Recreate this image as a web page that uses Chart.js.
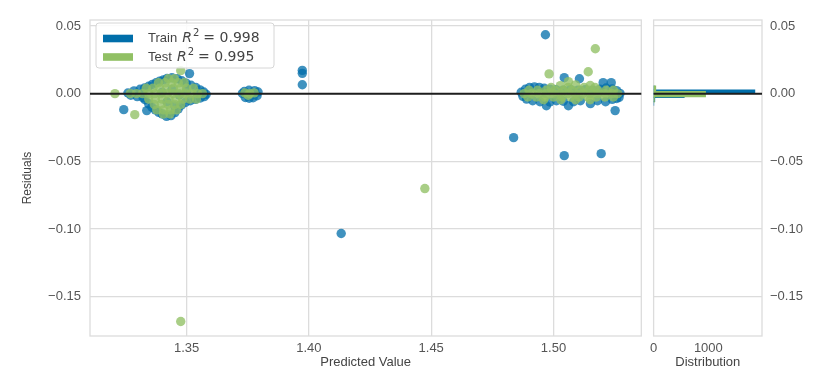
<!DOCTYPE html>
<html>
<head>
<meta charset="utf-8">
<script src="https://cdn.jsdelivr.net/npm/chart.js@4.4.1/dist/chart.umd.min.js"></script>
<style>
  html, body { margin: 0; padding: 0; background: #ffffff; }
  #wrap { position: relative; width: 836px; height: 382px; overflow: hidden; background: #fff; }
  #mainBox { position: absolute; left: 0; top: 0; width: 646px; height: 382px; }
  #histBox { position: absolute; left: 645px; top: 0; width: 191px; height: 382px; }
</style>
</head>
<body>
<div id="wrap">
  <div id="mainBox"><canvas id="main" width="646" height="382"></canvas></div>
  <div id="histBox"><canvas id="hist" width="191" height="382"></canvas></div>
</div>
<script>
// ---------------- data ----------------
const seriesNames = ['Train', 'Test'];
const r2Scores = ['0.998', '0.995'];

const xTicks = [1.35, 1.40, 1.45, 1.50];
const yTicks = [0.05, 0.00, -0.05, -0.10, -0.15];
const histTicks = [0, 1000];

const X_MIN = 1.3105, X_MAX = 1.5359;
const Y_MIN = -0.179, Y_MAX = 0.0544;
const HIST_MAX = 1980;
const zeroLine = 0;

const trainPred = [
  1.3243, 1.3337, 1.3260, 1.3272, 1.3285, 1.3298, 1.3310, 1.3322, 1.3328, 1.3345,
  1.3360, 1.3375, 1.3390, 1.3405, 1.3420, 1.3440, 1.3462, 1.3480, 1.3512, 1.3498,
  1.3518, 1.3538, 1.3555, 1.3570, 1.3580, 1.3572, 1.3556, 1.3536, 1.3515, 1.3495,
  1.3478, 1.3466, 1.3452, 1.3436, 1.3418, 1.3400, 1.3386, 1.3372, 1.3358, 1.3345,
  1.3330, 1.3400, 1.3440, 1.3470, 1.3420, 1.3500, 1.3450,
  1.3728, 1.3740, 1.3756, 1.3772, 1.3788, 1.3792, 1.3778, 1.3755, 1.3736,
  1.3973, 1.3973, 1.3973,
  1.4132,
  1.4868, 1.4875, 1.4885, 1.4902, 1.4922, 1.4942, 1.4962, 1.4986, 1.5010, 1.5040,
  1.5070, 1.5100, 1.5130, 1.5160, 1.5190, 1.5215, 1.5240, 1.5258, 1.5272, 1.5268,
  1.4890, 1.4915, 1.4945, 1.4971, 1.4985, 1.5012, 1.5040, 1.5061, 1.5082, 1.5110,
  1.5151, 1.5180, 1.5213, 1.5240, 1.5258,
  1.4967, 1.5044, 1.5106, 1.5203, 1.5236, 1.5252, 1.4837, 1.5044, 1.5195
];
const trainResid = [
  -0.0118, -0.0125, 0.0005, -0.0012, 0.0020, -0.0022, 0.0032, -0.0030, 0.0042, 0.0055,
  0.0068, 0.0080, 0.0092, 0.0102, 0.0112, 0.0118, 0.0110, 0.0095, 0.0148, 0.0078,
  0.0062, 0.0045, 0.0028, 0.0012, -0.0005, -0.0022, -0.0032, -0.0042, -0.0052, -0.0065,
  -0.0085, -0.0112, -0.0140, -0.0162, -0.0168, -0.0150, -0.0138, -0.0120, -0.0100, -0.0075,
  -0.0045, 0.0010, 0.0030, -0.0010, -0.0060, 0.0020, -0.0090,
  0.0002, -0.0028, -0.0034, -0.0030, -0.0015, 0.0012, 0.0022, 0.0025, 0.0016,
  0.0172, 0.0150, 0.0066,
  -0.1033,
  0.0010, -0.0020, 0.0032, 0.0045, 0.0050, 0.0046, 0.0040, 0.0032, 0.0030, 0.0026,
  0.0030, 0.0026, 0.0030, 0.0026, 0.0032, 0.0042, 0.0034, 0.0022, 0.0002, -0.0028,
  -0.0040, -0.0052, -0.0060, -0.0089, -0.0062, -0.0052, -0.0056, -0.0089, -0.0060, -0.0052,
  -0.0074, -0.0052, -0.0060, -0.0042, -0.0036,
  0.0435, 0.0118, 0.0110, 0.0081, 0.0081, -0.0125, -0.0325, -0.0458, -0.0443
];

const testPred = [
  1.3207, 1.3288, 1.3476, 1.3476,
  1.3270, 1.3295, 1.3320, 1.3345, 1.3370, 1.3395, 1.3420, 1.3445, 1.3470, 1.3495, 1.3520, 1.3545, 1.3565,
  1.3335, 1.3362, 1.3390, 1.3418, 1.3446, 1.3474, 1.3500, 1.3528,
  1.3385, 1.3412, 1.3440, 1.3466, 1.3490,
  1.3425, 1.3450,
  1.3345, 1.3372, 1.3400, 1.3428, 1.3456, 1.3484, 1.3512, 1.3540,
  1.3368, 1.3396, 1.3424, 1.3452, 1.3476,
  1.3378, 1.3406, 1.3434, 1.3458,
  1.3405, 1.3432,
  1.3738, 1.3758, 1.3776, 1.3752,
  1.4474,
  1.4880, 1.4910, 1.4940, 1.4970, 1.5000, 1.5030, 1.5060, 1.5090, 1.5120, 1.5150, 1.5180, 1.5210, 1.5240, 1.5262,
  1.4900, 1.4935, 1.4970, 1.5005, 1.5040, 1.5075, 1.5110, 1.5145, 1.5180, 1.5215, 1.5245,
  1.4895, 1.4930, 1.4965, 1.5000, 1.5035, 1.5070, 1.5105, 1.5140, 1.5175, 1.5210, 1.5245,
  1.4990, 1.5060, 1.5125, 1.5170,
  1.4960, 1.5030, 1.5090, 1.5150,
  1.5171, 1.4982, 1.5142, 1.5061, 1.5028, 1.5090, 1.5150
];
const testResid = [
  0.0000, -0.0155, 0.0170, -0.1683,
  0.0000, 0.0000, 0.0000, 0.0000, 0.0000, 0.0000, 0.0000, 0.0000, 0.0000, 0.0000, 0.0000, 0.0000, 0.0000,
  0.0040, 0.0040, 0.0040, 0.0040, 0.0040, 0.0040, 0.0040, 0.0040,
  0.0080, 0.0080, 0.0080, 0.0080, 0.0080,
  0.0110, 0.0110,
  -0.0040, -0.0040, -0.0040, -0.0040, -0.0040, -0.0040, -0.0040, -0.0040,
  -0.0080, -0.0080, -0.0080, -0.0080, -0.0080,
  -0.0120, -0.0120, -0.0120, -0.0120,
  -0.0150, -0.0150,
  0.0005, 0.0000, 0.0006, -0.0012,
  -0.0701,
  0.0000, 0.0000, 0.0000, 0.0000, 0.0000, 0.0000, 0.0000, 0.0000, 0.0000, 0.0000, 0.0000, 0.0000, 0.0000, 0.0000,
  0.0025, 0.0025, 0.0025, 0.0025, 0.0025, 0.0025, 0.0025, 0.0025, 0.0025, 0.0025, 0.0025,
  -0.0025, -0.0025, -0.0025, -0.0025, -0.0025, -0.0025, -0.0025, -0.0025, -0.0025, -0.0025, -0.0025,
  0.0045, 0.0045, 0.0045, 0.0045,
  -0.0045, -0.0045, -0.0045, -0.0045,
  0.0332, 0.0146, 0.0162, 0.0089, 0.0059, 0.0065, 0.0060
];

// histogram of residuals (bin centres and counts)
const histBinsTrain = [-0.0073, -0.0044, -0.0015, 0.0014, 0.0043];
const histCountsTrain = [4, 22, 560, 1850, 10];
const histBinsTest = [-0.0043, -0.0003, 0.0037];
const histCountsTest = [15, 950, 40];

// ---------------- styles ----------------
const TRAIN_SOLID = 'rgb(0,110,170)';
const TEST_SOLID = 'rgb(145,192,100)';
const TRAIN_ALPHA = 'rgba(0,110,170,0.75)';
const TEST_ALPHA = 'rgba(145,192,100,0.78)';
const GRID = '#dcdcdc';
const TICK_COLOR = '#555555';
const TITLE_COLOR = '#444444';
const SANS = '"Liberation Sans", Arial, sans-serif';

Chart.defaults.font.family = SANS;
Chart.defaults.font.size = 13;
Chart.defaults.color = TICK_COLOR;

const fmtResid = v => (v < 0 ? '\u2212' : '') + Math.abs(v).toFixed(2);

const framePlugin = {
  id: 'frameAndZero',
  beforeDatasetsDraw(chart) {
    const { ctx, chartArea: a } = chart;
    ctx.save();
    ctx.strokeStyle = GRID;
    ctx.lineWidth = 1.3;
    ctx.strokeRect(a.left, a.top, a.right - a.left, a.bottom - a.top);
    ctx.restore();
  },
  afterDatasetsDraw(chart) {
    const { ctx, chartArea: a, scales } = chart;
    const y = scales.y.getPixelForValue(zeroLine);
    ctx.save();
    ctx.strokeStyle = '#1e1e1e';
    ctx.lineWidth = 2;
    ctx.beginPath();
    ctx.moveTo(a.left, y);
    ctx.lineTo(a.right, y);
    ctx.stroke();
    ctx.restore();
  }
};

function roundRectPath(ctx, x, y, w, h, r) {
  ctx.beginPath();
  ctx.moveTo(x + r, y);
  ctx.arcTo(x + w, y, x + w, y + h, r);
  ctx.arcTo(x + w, y + h, x, y + h, r);
  ctx.arcTo(x, y + h, x, y, r);
  ctx.arcTo(x, y, x + w, y, r);
  ctx.closePath();
}

const legendPlugin = {
  id: 'residLegend',
  afterDraw(chart) {
    const { ctx, chartArea: a } = chart;
    const bx = a.left + 6, by = a.top + 3, bw = 178, bh = 45;
    ctx.save();
    roundRectPath(ctx, bx, by, bw, bh, 3);
    ctx.fillStyle = 'rgba(255,255,255,0.85)';
    ctx.fill();
    ctx.strokeStyle = '#d6d6d6';
    ctx.lineWidth = 1;
    ctx.stroke();
    const colors = [TRAIN_SOLID, TEST_SOLID];
    ctx.textBaseline = 'middle';
    for (let i = 0; i < seriesNames.length; i++) {
      const cy = by + 15.5 + i * 18.5;
      ctx.fillStyle = colors[i];
      ctx.fillRect(bx + 7, cy - 3.8, 30, 7.6);
      ctx.fillStyle = '#444444';
      let x = bx + 52;
      ctx.font = '13px ' + SANS;
      const t = seriesNames[i] + ' ';
      ctx.fillText(t, x, cy);
      x += ctx.measureText(t).width + 1.5;
      ctx.font = 'italic 14px "DejaVu Sans"';
      ctx.fillText('R', x, cy);
      x += ctx.measureText('R').width + 1;
      ctx.font = '10px "DejaVu Sans"';
      ctx.fillText('2', x, cy - 5);
      x += ctx.measureText('2').width + 4;
      ctx.font = '14px "DejaVu Sans"';
      ctx.fillText('= ' + r2Scores[i], x, cy);
    }
    ctx.restore();
  }
};

// ---------------- main residual scatter ----------------
new Chart(document.getElementById('main'), {
  type: 'scatter',
  data: {
    datasets: [
      {
        label: seriesNames[0],
        data: trainPred.map((x, i) => ({ x: x, y: trainResid[i] })),
        backgroundColor: TRAIN_ALPHA,
        borderWidth: 0,
        pointRadius: 4.7,
        order: 1
      },
      {
        label: seriesNames[1],
        data: testPred.map((x, i) => ({ x: x, y: testResid[i] })),
        backgroundColor: TEST_ALPHA,
        borderWidth: 0,
        pointRadius: 4.7,
        order: 0
      }
    ]
  },
  options: {
    responsive: false,
    animation: false,
    events: [],
    layout: { padding: { top: 20, right: 1, bottom: 0, left: 0 } },
    plugins: { legend: { display: false }, tooltip: { enabled: false } },
    scales: {
      x: {
        type: 'linear',
        min: X_MIN, max: X_MAX,
        afterBuildTicks: s => { s.ticks = xTicks.map(v => ({ value: v })); },
        afterFit: s => { s.height = 46; },
        ticks: { callback: v => v.toFixed(2), padding: 5, color: TICK_COLOR, maxRotation: 0 },
        grid: { color: GRID, lineWidth: 1.3, drawTicks: false },
        border: { display: false },
        title: { display: true, text: 'Predicted Value', color: TITLE_COLOR, font: { size: 13 }, padding: { top: 0, bottom: 12 } }
      },
      y: {
        type: 'linear',
        min: Y_MIN, max: Y_MAX,
        afterBuildTicks: s => { s.ticks = yTicks.map(v => ({ value: v })); },
        afterFit: s => { s.width = 90; },
        ticks: { callback: fmtResid, padding: 9, color: TICK_COLOR },
        grid: { color: GRID, lineWidth: 1.3, drawTicks: false },
        border: { display: false },
        title: { display: true, text: 'Residuals', color: TITLE_COLOR, font: { size: 12 }, padding: { top: 20, bottom: 0 } }
      }
    }
  },
  plugins: [framePlugin, legendPlugin]
});

// ---------------- residual distribution (histogram) ----------------
new Chart(document.getElementById('hist'), {
  type: 'bar',
  data: {
    datasets: [
      {
        label: seriesNames[0],
        data: histBinsTrain.map((b, i) => ({ x: histCountsTrain[i], y: b })),
        backgroundColor: TRAIN_SOLID,
        borderWidth: 0,
        barThickness: 4,
        grouped: false,
        order: 1
      },
      {
        label: seriesNames[1],
        data: histBinsTest.map((b, i) => ({ x: histCountsTest[i], y: b })),
        backgroundColor: TEST_SOLID,
        borderWidth: 0,
        barThickness: 5.5,
        grouped: false,
        order: 0
      }
    ]
  },
  options: {
    indexAxis: 'y',
    responsive: false,
    animation: false,
    events: [],
    layout: { padding: { top: 20, right: 0, bottom: 0, left: 5 } },
    plugins: { legend: { display: false }, tooltip: { enabled: false } },
    scales: {
      x: {
        type: 'linear',
        min: 0, max: HIST_MAX,
        afterBuildTicks: s => { s.ticks = histTicks.map(v => ({ value: v })); },
        afterFit: s => { s.height = 46; },
        ticks: { callback: v => String(v), padding: 5, color: TICK_COLOR, maxRotation: 0 },
        grid: { display: false, drawTicks: false },
        border: { display: false },
        title: { display: true, text: 'Distribution', color: TITLE_COLOR, font: { size: 13 }, padding: { top: 0, bottom: 12 } }
      },
      y: {
        type: 'linear',
        position: 'right',
        offset: false,
        min: Y_MIN, max: Y_MAX,
        afterBuildTicks: s => { s.ticks = yTicks.map(v => ({ value: v })); },
        afterFit: s => { s.width = 74; },
        ticks: { callback: fmtResid, padding: 8, color: TICK_COLOR },
        grid: { color: GRID, lineWidth: 1.3, drawTicks: false, offset: false },
        border: { display: false }
      }
    }
  },
  plugins: [framePlugin]
});
</script>
</body>
</html>
